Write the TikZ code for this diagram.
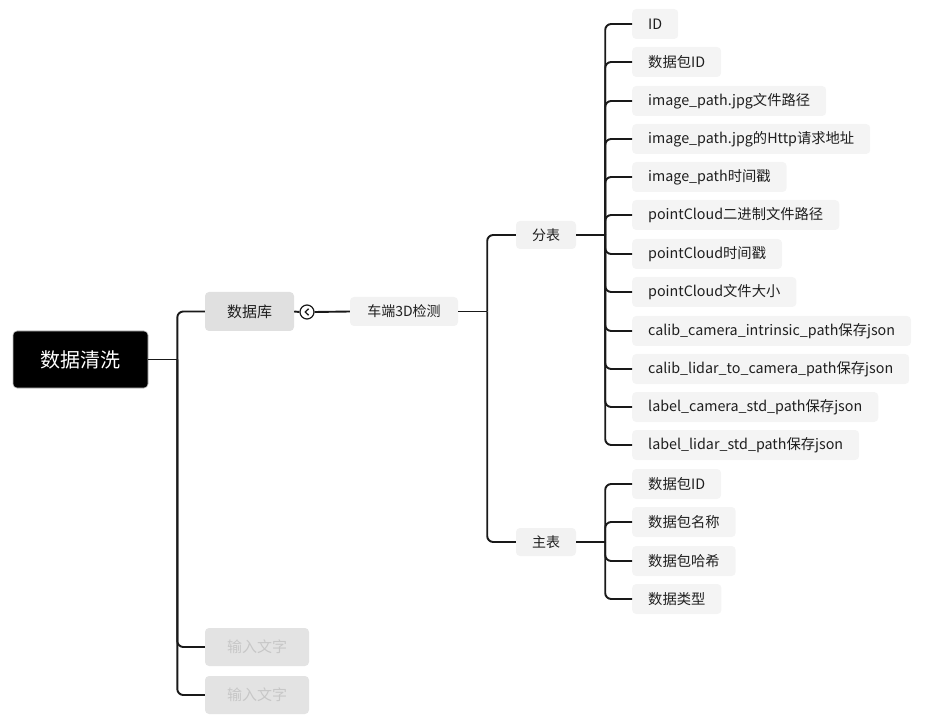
\documentclass[tikz,border=0pt]{standalone}
\usepackage{fontspec}
\setmainfont{Noto Sans CJK SC}
\usetikzlibrary{calc}
\begin{document}
\begin{tikzpicture}[x=1pt,y=-1pt,
  conn/.style={line width=1.9pt,draw=black!90},
  branch/.style={conn,rounded corners=6pt},
  topic/.style={rounded corners=4pt,inner sep=0pt,align=center,text=black!88},
  rootbox/.style={topic,fill=black,text=white,draw=black!25,line width=0.6pt,
    minimum width=135pt,minimum height=57pt,font=\fontsize{20}{24}\selectfont},
  mainbox/.style={topic,fill=black!12,minimum height=39pt,font=\fontsize{15}{18}\selectfont},
  placeholder/.style={topic,fill=black!11,text=black!22,minimum width=104pt,
    minimum height=38pt,font=\fontsize{15}{18}\selectfont},
  subbox/.style={topic,fill=black!5,minimum height=29pt,font=\fontsize{14}{16}\selectfont},
  leaf/.style={topic,fill=black!4.5,anchor=west,inner xsep=16pt,minimum height=30pt,
    font=\fontsize{14.3}{16}\selectfont},
]
\useasboundingbox (0,0) rectangle (930,722);

% central topic and first level
\node[rootbox] (root) at (80.5,359.5) {数据清洗};
\node[mainbox,minimum width=89pt] (db) at (249.5,311.5) {数据库};
\node[placeholder] (in1) at (257,647) {输入文字};
\node[placeholder] (in2) at (257,695) {输入文字};

% collapse marker and second level
\node[circle,draw=black!90,fill=white,line width=1.2pt,minimum size=14pt,inner sep=0pt] (fold) at (307,312) {};
\draw[line width=1.3pt,black!90] ([shift={(1.6,-3.2)}]fold.center) -- ([shift={(-1.8,0)}]fold.center) -- ([shift={(1.6,3.2)}]fold.center);
\node[subbox,minimum width=108pt] (car) at (404,311.5) {车端3D检测};
\node[subbox,minimum width=60pt,minimum height=28pt] (fen) at (546,235) {分表};
\node[subbox,minimum width=60pt,minimum height=28pt] (zhu) at (546,542) {主表};

% fields of the detail table
\node[leaf] (f1)  at (632,24)  {ID};
\node[leaf] (f2)  at (632,62)  {数据包ID};
\node[leaf] (f3)  at (632,101) {image\_path.jpg文件路径};
\node[leaf] (f4)  at (632,139) {image\_path.jpg的Http请求地址};
\node[leaf] (f5)  at (632,177) {image\_path时间戳};
\node[leaf] (f6)  at (632,215) {pointCloud二进制文件路径};
\node[leaf] (f7)  at (632,254) {pointCloud时间戳};
\node[leaf] (f8)  at (632,292) {pointCloud文件大小};
\node[leaf] (f9)  at (632,331) {calib\_camera\_intrinsic\_path保存json};
\node[leaf] (f10) at (632,369) {calib\_lidar\_to\_camera\_path保存json};
\node[leaf] (f11) at (632,407) {label\_camera\_std\_path保存json};
\node[leaf] (f12) at (632,445) {label\_lidar\_std\_path保存json};

% fields of the main table
\node[leaf] (m1) at (632,484) {数据包ID};
\node[leaf] (m2) at (632,522) {数据包名称};
\node[leaf] (m3) at (632,561) {数据包哈希};
\node[leaf] (m4) at (632,599) {数据类型};

% junction points
\coordinate (jr) at ($(root.east)+(29,0)$);
\coordinate (jc) at ($(car.east)+(29,0)$);
\coordinate (jf) at ($(fen.east)+(29,0)$);
\coordinate (jz) at ($(zhu.east)+(29,0)$);

% central topic branches
\draw[conn] (root.east) -- (jr);
\foreach \c in {db,in1,in2} \draw[branch] (jr) |- (\c.west);

% collapsed link to the second level
\draw[conn] (db.east) -- (fold.west);
\draw[conn] (fold.east) -- (car.west);

% second level branches
\draw[conn] (car.east) -- (jc);
\foreach \c in {fen,zhu} \draw[branch] (jc) |- (\c.west);

\draw[conn] (fen.east) -- (jf);
\foreach \c in {f1,f2,f3,f4,f5,f6,f7,f8,f9,f10,f11,f12} \draw[branch] (jf) |- (\c.west);

\draw[conn] (zhu.east) -- (jz);
\foreach \c in {m1,m2,m3,m4} \draw[branch] (jz) |- (\c.west);
\end{tikzpicture}
\end{document}
